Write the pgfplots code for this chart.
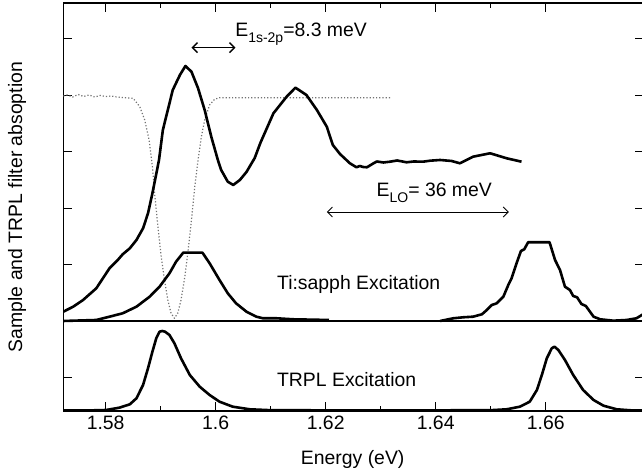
\documentclass[border=0pt]{standalone}
\usepackage{fontspec}
\setmainfont{Liberation Sans}
\usepackage{pgfplots}
\pgfplotsset{compat=1.18}
\usetikzlibrary{arrows.meta}
\newcommand{\ff}{\fontsize{9.7}{11.6}\selectfont}
\begin{document}
\begin{tikzpicture}
\path[use as bounding box] (-31.65pt,-31.5pt) rectangle (289.35pt,205.5pt);
\begin{axis}[
 scale only axis, width=290.1pt, height=204pt,
 xmin=1.5723, xmax=1.67778, ymin=0, ymax=408,
 xtick={1.58,1.60,1.62,1.64,1.66},
 xticklabels={1.58,1.6,1.62,1.64,1.66},
 minor x tick num=1,
 ytick={33,89.5,146,202.5,259,315.5,372}, yticklabels={},
 major tick length=4.5pt, minor tick length=2.5pt,
 tick style={black, line width=0.5pt},
 axis line style={line width=0.65pt},
 tick label style={font=\ff},
 xticklabel style={yshift=1.2pt},
 /pgf/number format/assume math mode=true,
 xlabel={Energy (eV)}, ylabel={Sample and TRPL filter absoption},
 label style={font=\ff},
 xlabel style={at={(axis description cs:0.4988,-0.12)}, anchor=center},
 ylabel style={at={(axis description cs:-0.0798,0.5)}, anchor=center},
 every axis plot/.append style={line join=round},
]
% divider
\addplot[black, line width=0.75pt] coordinates {(1.5723,90) (1.67778,90)};
% filter absorption (dotted)
\addplot[black!55, densely dotted, line width=0.6pt] coordinates {
(1.5723,315) (1.5730,316) (1.5740,314) (1.5750,316.5) (1.5760,314.5) (1.5770,316) (1.5780,314)
(1.5790,315.5) (1.5800,314.5) (1.5810,315) (1.5820,314) (1.5830,313.5) (1.5840,313) (1.5850,312.7)
(1.5862,304.3) (1.5871,291) (1.5879,271) (1.5885,244.3) (1.5889,217.7) (1.5895,184.3)
(1.5901,154.3) (1.5907,131) (1.5913,111) (1.5919,97.7) (1.5925,92.7) (1.5931,97.7)
(1.5937,111) (1.5944,134.3) (1.5950,161) (1.5956,191) (1.5962,224.3) (1.5968,251)
(1.5974,274.3) (1.5980,291) (1.5989,306) (1.5998,311.7) (1.6007,313.3) (1.6317,313.3)};
% sample absorption
\addplot[black, line width=1.3pt] coordinates {
(1.5723,99.3) (1.5741,104.3) (1.5759,111) (1.5783,122.7) (1.5807,142.7) (1.5822,151)
(1.5831,156.7) (1.5844,162.7) (1.5856,171) (1.5868,182.7) (1.5877,197.7) (1.5885,217.7)
(1.5891,234.3) (1.5897,251) (1.5904,281) (1.5922,321) (1.5935,336) (1.5945,345)
(1.5956,339.3) (1.5968,322.7) (1.5980,301) (1.5992,274.3) (1.6004,251) (1.6010,241)
(1.6022,229.3) (1.6032,226) (1.6044,231) (1.6056,239) (1.6071,253) (1.6081,267.7)
(1.6105,297.7) (1.6129,314.3) (1.6145,323.3) (1.6165,316) (1.6184,301) (1.6202,284.3)
(1.6213,266) (1.6226,257) (1.6244,247.7) (1.6256,243.7) (1.6262,245) (1.6268,244)
(1.6275,243.7) (1.6287,247.7) (1.6293,249.5) (1.6305,248.5) (1.6317,249.3) (1.6330,250.5)
(1.6347,248.7) (1.6360,249.5) (1.6377,249.3) (1.6390,250.3) (1.6408,251) (1.6429,250)
(1.6444,247.7) (1.6468,254.3) (1.6499,257.7) (1.6529,252.7) (1.6556,249.3)};
% Ti:sapph excitation
\addplot[black, line width=1.3pt] coordinates {
(1.5723,90) (1.5783,91) (1.5807,94.3) (1.5831,97.7) (1.5856,104.3) (1.5880,114.3)
(1.5898,124.3) (1.5916,137.7) (1.5928,149.3) (1.5941,158.3) (1.5976,158.3) (1.5989,147.7)
(1.6007,131) (1.6022,117.7) (1.6037,107.7) (1.6056,99.3) (1.6074,94.3) (1.6086,92.7)
(1.6111,92.7) (1.6141,91.7) (1.6206,91)};
\addplot[black, line width=1.3pt] coordinates {
(1.6408,90) (1.6432,92.7) (1.6450,93.7) (1.6468,94.3) (1.6484,96.7) (1.6493,101)
(1.6502,106) (1.6511,107.7) (1.6523,114.3) (1.6532,126) (1.6538,132.7) (1.6547,147.7)
(1.6555,160) (1.6561,161.7) (1.6568,168.7) (1.6607,168.7) (1.6617,151) (1.6626,141)
(1.6635,124.3) (1.6644,121) (1.6650,115) (1.6657,113.7) (1.6665,107) (1.6673,105)
(1.6687,94.3) (1.6699,91.7) (1.6723,90.3) (1.6747,91) (1.6765,92.7) (1.67778,97)};
% TRPL excitation
\addplot[black, line width=1.3pt] coordinates {
(1.5723,0.5) (1.5760,0.5) (1.5790,0.8) (1.5801,1) (1.5825,3.3) (1.5844,6.7) (1.5856,12.7)
(1.5868,26) (1.5877,42.7) (1.5885,59.3) (1.5892,72.7) (1.5898,79.3) (1.5903,80) (1.5908,79.3)
(1.5916,76) (1.5925,67.7) (1.5937,52.7) (1.5953,36) (1.5971,24.3) (1.5989,16) (1.6007,9.3)
(1.6031,4.3) (1.6062,1.7) (1.6100,0.8) (1.6300,0.5) (1.6500,0.8) (1.6529,1.7) (1.6553,4.3)
(1.6571,9.3) (1.6584,21) (1.6593,36) (1.6602,52.7) (1.6611,62.7) (1.6616,64.3) (1.6623,61)
(1.6635,51) (1.6650,36) (1.6668,21) (1.6687,11) (1.6705,5.3) (1.6729,1.7) (1.6759,0.5) (1.67778,0.5)};
% annotations
\node[anchor=base west, font=\ff, inner sep=0] at (axis cs:1.6035,374)
  {E\raisebox{-2.6pt}{\fontsize{7}{8}\selectfont 1s-2p}=8.3 meV};
\draw[{Straight Barb[length=2.5pt,width=5pt]}-{Straight Barb[length=2.5pt,width=5pt]}, line width=0.7pt]
  (axis cs:1.5956,363.3) -- (axis cs:1.6036,363.3);
\node[anchor=base west, font=\ff, inner sep=0] at (axis cs:1.6292,214)
  {E\raisebox{-2.6pt}{\fontsize{7}{8}\selectfont LO}= 36 meV};
\draw[{Straight Barb[length=2.5pt,width=5pt]}-{Straight Barb[length=2.5pt,width=5pt]}, line width=0.45pt]
  (axis cs:1.6202,199) -- (axis cs:1.6533,199);
\node[anchor=base west, font=\ff, inner sep=0] at (axis cs:1.6111,121.7) {Ti:sapph Excitation};
\node[anchor=base west, font=\ff, inner sep=0] at (axis cs:1.6111,24.3) {TRPL Excitation};
\end{axis}
\end{tikzpicture}
\end{document}
